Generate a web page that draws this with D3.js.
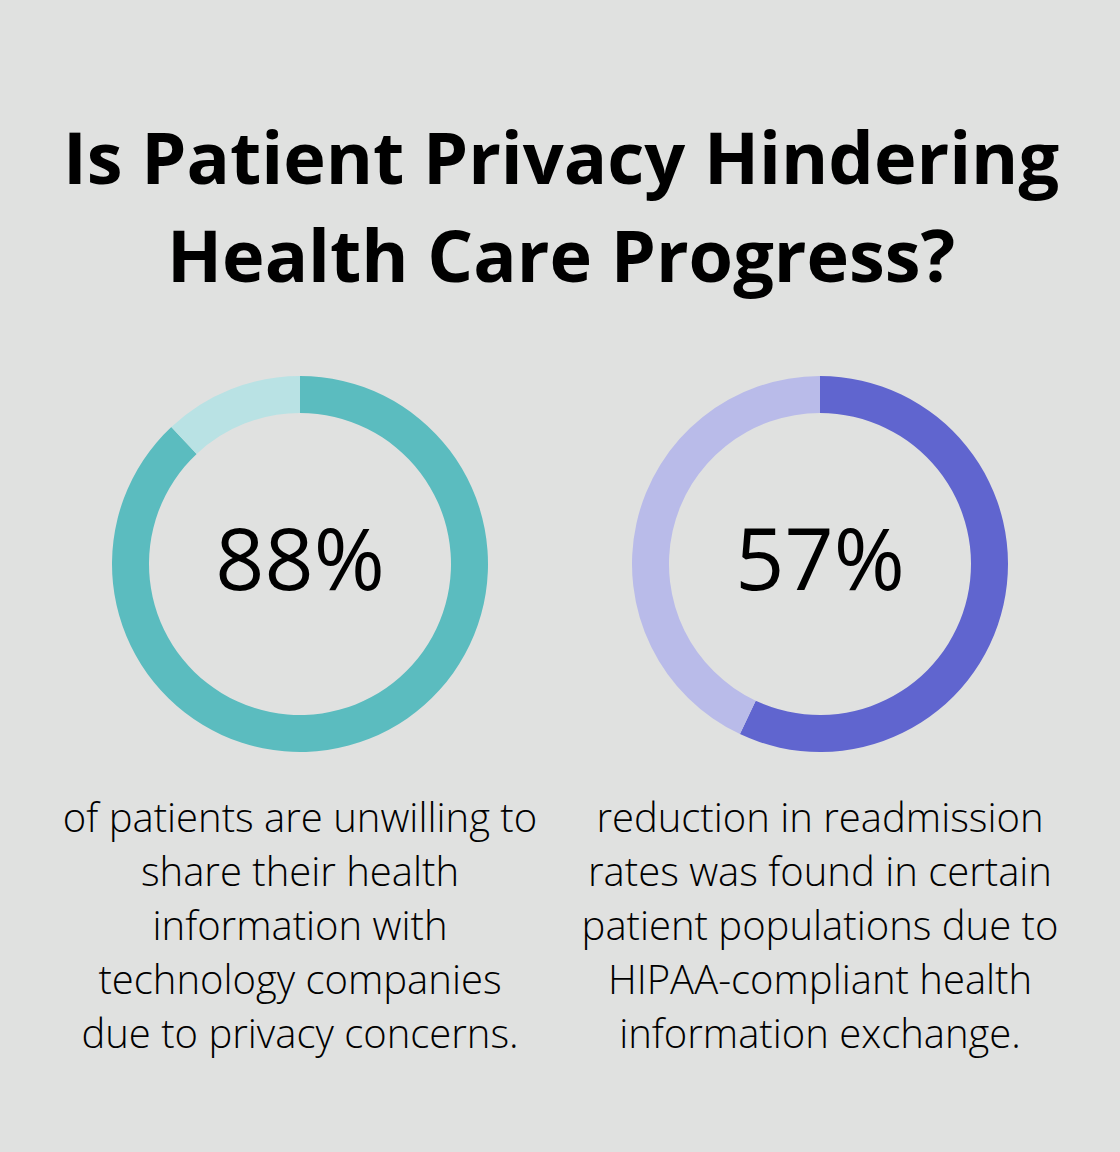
<!DOCTYPE html>
<html>
<head>
<meta charset="utf-8">
<script src="https://cdn.jsdelivr.net/npm/d3@7"></script>
<style>
  html, body { margin: 0; padding: 0; background: #e0e1e0; }
  svg { display: block; }
</style>
</head>
<body>
<svg id="chart" width="1120" height="1152"></svg>
<script>
const titleLines = ["Is Patient Privacy Hindering", "Health Care Progress?"];
const labels = ["88%", "57%"];
const values = [88, 57];
const mainColors = ["#5bbcbf", "#6065cf"];
const restColors = ["#b9e2e4", "#b9bbe9"];
const captions = [
  ["of patients are unwilling to", "share their health", "information with", "technology companies", "due to privacy concerns."],
  ["reduction in readmission", "rates was found in certain", "patient populations due to", "HIPAA-compliant health", "information exchange."]
];

const W = 1120, H = 1152;
const svg = d3.select("#chart");
svg.append("rect").attr("width", W).attr("height", H).attr("fill", "#e0e1e0");

const font = "'Open Sans', 'Noto Sans', sans-serif";

svg.append("g").selectAll("text").data(titleLines).join("text")
  .attr("x", W / 2 + 1)
  .attr("y", (d, i) => 184 + i * 98)
  .attr("text-anchor", "middle")
  .attr("font-family", font)
  .attr("font-weight", 700)
  .attr("font-size", 72)
  .attr("fill", "#000")
  .text(d => d);

const x = d3.scalePoint().domain(d3.range(values.length)).range([300, 820]);
const cy = 564;
const pie = d3.pie().sort(null).value(d => d);
const arc = d3.arc().innerRadius(151).outerRadius(188);

values.forEach((v, i) => {
  const g = svg.append("g").attr("transform", `translate(${x(i)},${cy})`);
  g.selectAll("path").data(pie([v, 100 - v])).join("path")
    .attr("d", arc)
    .attr("fill", (d, j) => j === 0 ? mainColors[i] : restColors[i]);
  g.append("text")
    .attr("y", 26)
    .attr("text-anchor", "middle")
    .attr("font-family", font)
    .attr("font-weight", 400)
    .attr("font-size", 86)
    .attr("fill", "#000")
    .text(labels[i]);
  svg.append("g").selectAll("text").data(captions[i]).join("text")
    .attr("x", x(i))
    .attr("y", (d, k) => 832 + k * 54)
    .attr("text-anchor", "middle")
    .attr("font-family", font)
    .attr("font-weight", 300)
    .attr("font-size", 40)
    .attr("fill", "#000")
    .text(d => d);
});
</script>
</body>
</html>
